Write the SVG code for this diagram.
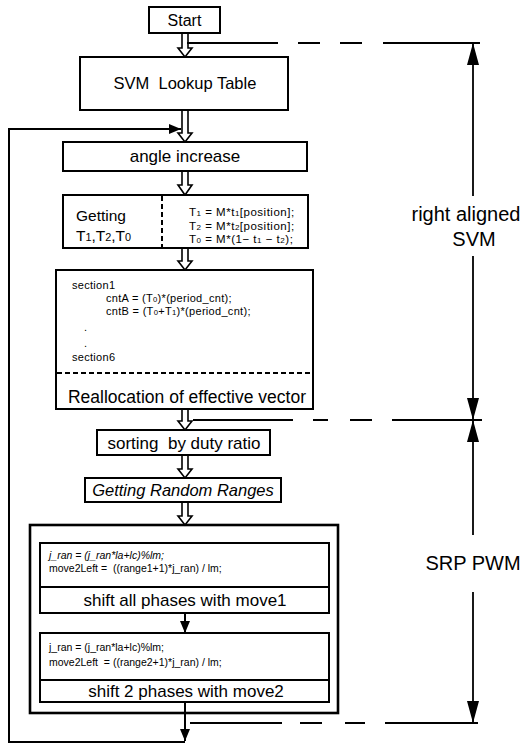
<svg xmlns="http://www.w3.org/2000/svg" width="526" height="745" viewBox="0 0 526 745">
  <defs>
    <style>
      .box{fill:#fff;stroke:#000;stroke-width:2}
      .thick{fill:none;stroke:#000;stroke-width:2.6}
      .sep{fill:none;stroke:#000;stroke-width:2}
      .dsep{fill:none;stroke:#000;stroke-width:2;stroke-dasharray:5 3}
      .lbl{font-family:"Liberation Sans",Arial,sans-serif;font-size:17px;text-anchor:middle;fill:#000;white-space:pre}
      .code{font-family:"Liberation Sans",Arial,sans-serif;font-size:11px;letter-spacing:0.3px;fill:#000;white-space:pre}
      .side{font-family:"Liberation Sans",Arial,sans-serif;font-size:20px;text-anchor:middle;fill:#000}
      .hollow{fill:#fff;stroke:#000;stroke-width:1.6;stroke-linejoin:miter}
      .wire{fill:none;stroke:#000;stroke-width:2}
      .guide{fill:none;stroke:#000;stroke-width:1.8}
      .sub{font-size:70%}
    </style>
    <marker id="head" viewBox="0 0 12 10" refX="12" refY="5" markerWidth="12" markerHeight="10" markerUnits="userSpaceOnUse" orient="auto">
      <path d="M0,0 L12,5 L0,10 Z" fill="#000"/>
    </marker>
    <marker id="dimhead" viewBox="0 0 22 12" refX="22" refY="6" markerWidth="22" markerHeight="12" markerUnits="userSpaceOnUse" orient="auto">
      <path d="M0,0 L22,6 L0,12 Z" fill="#000"/>
    </marker>
  </defs>

  <rect width="526" height="745" fill="#fff"/>

  <!-- connectors -->
  <g id="connectors">
    <!-- hollow flow arrows down the main column -->
    <path class="hollow" d="M182,33 V48 H178 L185,57 L192,48 H188 V33"/>
    <path class="hollow" d="M182,110 V133 H178 L185,142 L192,133 H188 V110"/>
    <path class="hollow" d="M182,171 V185 H178 L185,195 L192,185 H188 V171"/>
    <path class="hollow" d="M182,248 V261 H178 L185,270 L192,261 H188 V248"/>
    <path class="hollow" d="M182,409 V421 H178 L185,430 L192,421 H188 V409"/>
    <path class="hollow" d="M182,455 V469 H178 L185,478 L192,469 H188 V455"/>
    <path class="hollow" d="M182,502 V516 H178 L185,525 L192,516 H188 V502"/>
    <!-- between the two random shift blocks -->
    <line class="wire" x1="185" y1="613" x2="185" y2="633" marker-end="url(#head)"/>
    <!-- loop back to angle increase -->
    <line class="wire" x1="185" y1="702" x2="185" y2="741" marker-end="url(#head)"/>
    <path class="wire" d="M185,742 H9 V129 H181" marker-end="url(#head)"/>

    <!-- range guide lines -->
    <path class="guide" d="M187,43 H278 M298,43 H320 M340,43 H362 M383,43 H480"/>
    <path class="guide" d="M193,420 H293 M313,420 H328 M350,420 H372 M392,420 H482"/>
    <path class="guide" d="M190,723 H282 M300,723 H322 M345,723 H365 M385,723 H478"/>

    <!-- dimension arrows -->
    <line class="guide" x1="473" y1="196" x2="473" y2="43" marker-end="url(#dimhead)"/>
    <line class="guide" x1="473" y1="256" x2="473" y2="420" marker-end="url(#dimhead)"/>
    <line class="guide" x1="473" y1="535" x2="473" y2="420" marker-end="url(#dimhead)"/>
    <line class="guide" x1="473" y1="592" x2="473" y2="723" marker-end="url(#dimhead)"/>
  </g>

  <g id="start">
    <rect class="box" x="149" y="7" width="71" height="26"/>
    <text class="lbl" x="184.5" y="26" style="font-size:16px">Start</text>
  </g>

  <g id="svm-lookup">
    <rect class="box" x="80" y="57" width="208" height="53"/>
    <text class="lbl" x="185" y="89" style="font-size:16.5px">SVM  Lookup Table</text>
  </g>

  <g id="angle-increase">
    <rect class="box" x="63" y="142" width="244" height="29"/>
    <text class="lbl" x="185" y="162">angle increase</text>
  </g>

  <g id="getting-t">
    <rect class="box" x="63" y="195" width="245" height="53"/>
    <line class="dsep" x1="162" y1="196" x2="162" y2="247"/>
    <text class="lbl" x="76" y="221" style="text-anchor:start;font-size:15.5px">Getting</text>
    <text class="lbl" x="76" y="241" style="text-anchor:start;font-size:15.5px">T<tspan class="sub">1</tspan>,T<tspan class="sub">2</tspan>,T<tspan class="sub">0</tspan></text>
    <text class="code" x="189" y="216" style="font-size:11.5px;letter-spacing:0.5px">T<tspan class="sub">1</tspan> = M*t<tspan class="sub">1</tspan>[position];</text>
    <text class="code" x="189" y="229.5" style="font-size:11.5px;letter-spacing:0.5px">T<tspan class="sub">2</tspan> = M*t<tspan class="sub">2</tspan>[position];</text>
    <text class="code" x="189" y="243" style="font-size:11.5px;letter-spacing:0.5px">T<tspan class="sub">0</tspan> = M*(1− t<tspan class="sub">1</tspan> − t<tspan class="sub">2</tspan>);</text>
  </g>

  <g id="sections">
    <rect class="box" x="56" y="270" width="257" height="139"/>
    <text class="code" x="72" y="289">section1</text>
    <text class="code" x="106" y="302">cntA = (T<tspan class="sub">0</tspan>)*(period_cnt);</text>
    <text class="code" x="106" y="315">cntB = (T<tspan class="sub">0</tspan>+T<tspan class="sub">1</tspan>)*(period_cnt);</text>
    <text class="code" x="84" y="331">.</text>
    <text class="code" x="84" y="347">.</text>
    <text class="code" x="72" y="361">section6</text>
    <line class="dsep" x1="57" y1="373" x2="312" y2="373"/>
    <text class="lbl" x="187" y="403" style="font-size:17.5px">Reallocation of effective vector</text>
  </g>

  <g id="sorting">
    <rect class="box" x="97" y="430" width="173" height="25"/>
    <text class="lbl" x="184" y="449">sorting  by duty ratio</text>
  </g>

  <g id="random-ranges">
    <rect class="box" x="85" y="478" width="196" height="24"/>
    <text class="lbl" x="183" y="496" style="font-style:italic;font-size:16.5px">Getting Random Ranges</text>
  </g>

  <g id="srp-shift">
    <rect class="thick" x="30" y="525" width="308" height="188"/>
    <g id="shift-move1">
      <rect class="box" x="40" y="543" width="289" height="70"/>
      <line class="sep" x1="40" y1="587" x2="329" y2="587"/>
      <text class="code" x="49" y="559" style="font-style:italic;font-size:10.5px;letter-spacing:0">j_ran = (j_ran*la+lc)%lm;</text>
      <text class="code" x="49" y="572" style="font-size:10.5px;letter-spacing:0">move2Left =  ((range1+1)*j_ran) / lm;</text>
      <text class="lbl" x="185" y="606">shift all phases with move1</text>
    </g>
    <g id="shift-move2">
      <rect class="box" x="40" y="633" width="289" height="69"/>
      <line class="sep" x1="40" y1="680" x2="329" y2="680"/>
      <text class="code" x="49" y="651" style="font-size:10.5px;letter-spacing:0">j_ran = (j_ran*la+lc)%lm;</text>
      <text class="code" x="49" y="666" style="font-size:10.5px;letter-spacing:0">move2Left  = ((range2+1)*j_ran) / lm;</text>
      <text class="lbl" x="186" y="697">shift 2 phases with move2</text>
    </g>
  </g>

  <g id="range-labels">
    <text class="side" x="466" y="221">right aligned</text>
    <text class="side" x="474" y="246">SVM</text>
    <text class="side" x="473" y="570">SRP PWM</text>
  </g>
</svg>
